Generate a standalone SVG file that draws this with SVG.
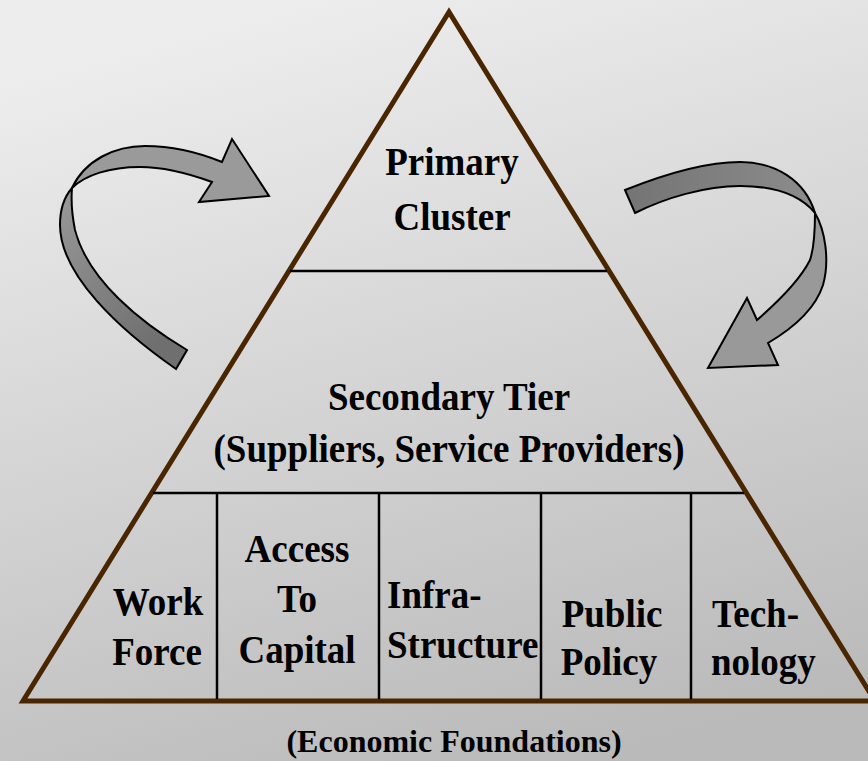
<svg xmlns="http://www.w3.org/2000/svg" width="868" height="761" viewBox="0 0 868 761">
<defs>
<linearGradient id="bg" x1="0.35" y1="0" x2="0.65" y2="1">
<stop offset="0" stop-color="#ededed"/>
<stop offset="1" stop-color="#bababa"/>
</linearGradient>
<linearGradient id="lb" x1="0" y1="0" x2="0.5" y2="1">
<stop offset="0" stop-color="#9a9a9a"/>
<stop offset="1" stop-color="#6f6f6f"/>
</linearGradient>
<linearGradient id="rt" x1="0" y1="0" x2="1" y2="0">
<stop offset="0" stop-color="#747474"/>
<stop offset="1" stop-color="#8c8c8c"/>
</linearGradient>
<style>
.t{font-family:"Liberation Serif","Times New Roman",serif;font-weight:bold;font-size:37px;fill:#000}
.f{font-size:32px}
.div{stroke:#000;stroke-width:2.5;fill:none}
.arr{stroke:#000;stroke-width:2;stroke-linejoin:miter}
</style>
</defs>
<rect width="868" height="761" fill="url(#bg)"/>

<g id="connectors">
<path class="arr" fill="url(#lb)" d="M176,369 C120,330 60,275 60,225 C60,208 65,196 72,188 C71,200 72,215 75,230 C88,280 140,322 187,350 Z"/>
<path class="arr" fill="#9a9a9a" d="M72,188 C85,160 115,146 145,146 C175,146 200,153 222,162 L232,139 L269,196 L199,202 L212,182 C190,174 165,167 140,167 C110,167 85,175 72,188 Z"/>
<path class="arr" fill="url(#rt)" d="M625,190 C655,178 700,162 740,162 C775,162 805,180 815,213 C800,195 775,186 740,186 C705,186 665,198 635,213 Z"/>
<path class="arr" fill="#999999" d="M815,213 C825,230 830,260 823,285 C815,310 790,330 768,343 L778,365 L708,368 L747,298 L757,320 C780,300 800,280 810,260 C815,245 815,225 815,213 Z"/>
</g>

<g id="pyramid">
<polygon points="449,12 23,701 875,701" fill="none" stroke="#4a2600" stroke-width="5" stroke-linejoin="miter"/>
<line class="div" x1="290" y1="271" x2="607" y2="271"/>
<line class="div" x1="153" y1="493" x2="744" y2="493"/>
<line class="div" x1="217" y1="493" x2="217" y2="699"/>
<line class="div" x1="379" y1="493" x2="379" y2="699"/>
<line class="div" x1="541" y1="493" x2="541" y2="699"/>
<line class="div" x1="691" y1="493" x2="691" y2="699"/>
</g>

<g id="primary-cluster">
<text class="t" text-anchor="middle" transform="translate(452,175) scale(1,1.08)">Primary</text>
<text class="t" text-anchor="middle" transform="translate(452,230) scale(1,1.08)">Cluster</text>
</g>

<g id="secondary-tier">
<text class="t" text-anchor="middle" transform="translate(449,410) scale(1,1.08)">Secondary Tier</text>
<text class="t" text-anchor="middle" transform="translate(449,462) scale(1,1.08)">(Suppliers, Service Providers)</text>
</g>

<g id="work-force">
<text class="t" text-anchor="middle" transform="translate(158,615) scale(1,1.08)">Work</text>
<text class="t" text-anchor="middle" transform="translate(157,665) scale(1,1.08)">Force</text>
</g>

<g id="access-to-capital">
<text class="t" text-anchor="middle" transform="translate(297,562) scale(1,1.08)">Access</text>
<text class="t" text-anchor="middle" transform="translate(297,612) scale(1,1.08)">To</text>
<text class="t" text-anchor="middle" transform="translate(297,663) scale(1,1.08)">Capital</text>
</g>

<g id="infrastructure">
<text class="t" transform="translate(387,608) scale(1,1.08)">Infra-</text>
<text class="t" transform="translate(387,658) scale(1,1.08)">Structure</text>
</g>

<g id="public-policy">
<text class="t" text-anchor="middle" transform="translate(612,627) scale(1,1.08)">Public</text>
<text class="t" text-anchor="middle" transform="translate(609,675) scale(1,1.08)">Policy</text>
</g>

<g id="technology">
<text class="t" transform="translate(712,627) scale(1,1.08)">Tech-</text>
<text class="t" transform="translate(711,675) scale(1,1.08)">nology</text>
</g>

<g id="economic-foundations">
<text class="t f" text-anchor="middle" transform="translate(454,752)">(Economic Foundations)</text>
</g>
</svg>
